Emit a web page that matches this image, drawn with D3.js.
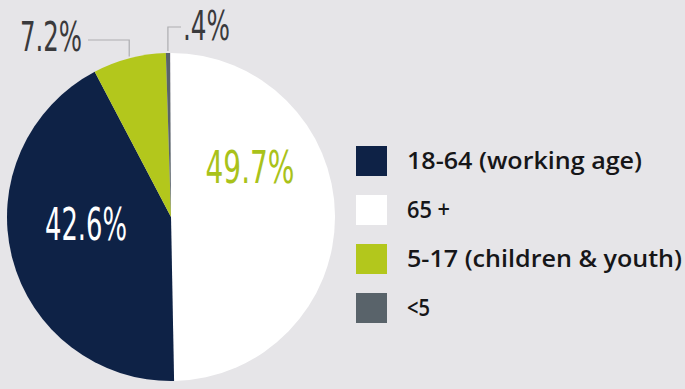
<!DOCTYPE html>
<html>
<head>
<meta charset="utf-8">
<script src="https://cdn.jsdelivr.net/npm/d3@7"></script>
<style>
  html, body { margin: 0; padding: 0; background: #e6e5e8; }
  svg { display: block; }
</style>
</head>
<body>
<svg id="chart" width="685" height="389"></svg>
<script>
// Age groups, drawn clockwise from 12 o'clock
const groups  = ["65 +", "18-64 (working age)", "5-17 (children & youth)", "<5"];
const shares  = [49.7, 42.6, 7.2, 0.4];
const labels  = ["49.7%", "42.6%", "7.2%", ".4%"];
const colors  = ["#ffffff", "#0e2246", "#b3c71c", "#59636a"];
// Legend order
const legendOrder = ["18-64 (working age)", "65 +", "5-17 (children & youth)", "<5"];
// Set widths of the legend captions
const legendWidths = [235, 43, 275, 23];

const W = 685, H = 389;
const cx = 171, cy = 217, R = 164;

const svg = d3.select("#chart");
svg.append("rect").attr("width", W).attr("height", H).attr("fill", "#e6e5e8");

const color = d3.scaleOrdinal().domain(groups).range(colors);

const pie = d3.pie().sort(null).value(d => d.v).startAngle(0).endAngle(2 * Math.PI * d3.sum(shares) / 100);
const data = groups.map((g, i) => ({ g, v: shares[i], label: labels[i] }));
const arcs = pie(data);
const arc = d3.arc().innerRadius(0).outerRadius(R);

const g = svg.append("g").attr("transform", `translate(${cx},${cy})`);
g.selectAll("path.slice")
  .data(arcs)
  .join("path")
  .attr("class", "slice")
  .attr("d", arc)
  .attr("fill", d => color(d.data.g));

// point on the rim at the middle of a slice
function rim(d, r) {
  const a = (d.startAngle + d.endAngle) / 2;
  return [r * Math.sin(a), -r * Math.cos(a)];
}

const pctFont = "'Liberation Sans Narrow', 'DejaVu Sans Condensed', sans-serif";

// In-slice labels
const inside = [
  { i: 0, x: 250, y: 183, fill: "#a9c21a", w: 89 },
  { i: 1, x: 86,  y: 240, fill: "#ffffff", w: 82 }
];
inside.forEach(o => {
  svg.append("text")
    .attr("x", o.x).attr("y", o.y)
    .attr("text-anchor", "middle")
    .attr("font-family", pctFont)
    .attr("font-size", 44)
    .attr("fill", o.fill)
    .attr("textLength", o.w)
    .attr("lengthAdjust", "spacingAndGlyphs")
    .text(arcs[o.i].data.label);
});

// Callout labels for the two small slices
const leader = "#adadb0";
{
  const d = arcs[2];
  const [px, py] = rim(d, R);
  const ax = cx + px, ay = cy + py;
  svg.append("path")
    .attr("d", `M${ax},${ay - 2} V40 H88`)
    .attr("fill", "none").attr("stroke", leader).attr("stroke-width", 1.2);
  svg.append("text")
    .attr("x", 20).attr("y", 51)
    .attr("font-family", pctFont)
    .attr("font-size", 40)
    .attr("fill", "#3a3a3c")
    .attr("textLength", 62)
    .attr("lengthAdjust", "spacingAndGlyphs")
    .text(d.data.label);
}
{
  const d = arcs[3];
  const [px, py] = rim(d, R);
  const ax = cx + px, ay = cy + py;
  svg.append("path")
    .attr("d", `M${ax},${ay - 2} V27 H181`)
    .attr("fill", "none").attr("stroke", leader).attr("stroke-width", 1.2);
  svg.append("text")
    .attr("x", 183).attr("y", 40)
    .attr("font-family", pctFont)
    .attr("font-size", 40)
    .attr("fill", "#3a3a3c")
    .attr("textLength", 47)
    .attr("lengthAdjust", "spacingAndGlyphs")
    .text(d.data.label);
}

// Legend
const legend = svg.append("g").attr("transform", "translate(356,146)");
const row = legend.selectAll("g")
  .data(legendOrder)
  .join("g")
  .attr("transform", (d, i) => `translate(0,${i * 49})`);
row.append("rect")
  .attr("width", 31).attr("height", 30)
  .attr("fill", d => color(d));
row.append("text")
  .attr("x", 51).attr("y", 23)
  .attr("font-family", "'Open Sans', sans-serif")
  .attr("font-size", 23.5)
  .attr("font-weight", 600)
  .attr("fill", "#161618")
  .attr("textLength", (d, i) => legendWidths[i])
  .attr("lengthAdjust", "spacingAndGlyphs")
  .text(d => d);
</script>
</body>
</html>
